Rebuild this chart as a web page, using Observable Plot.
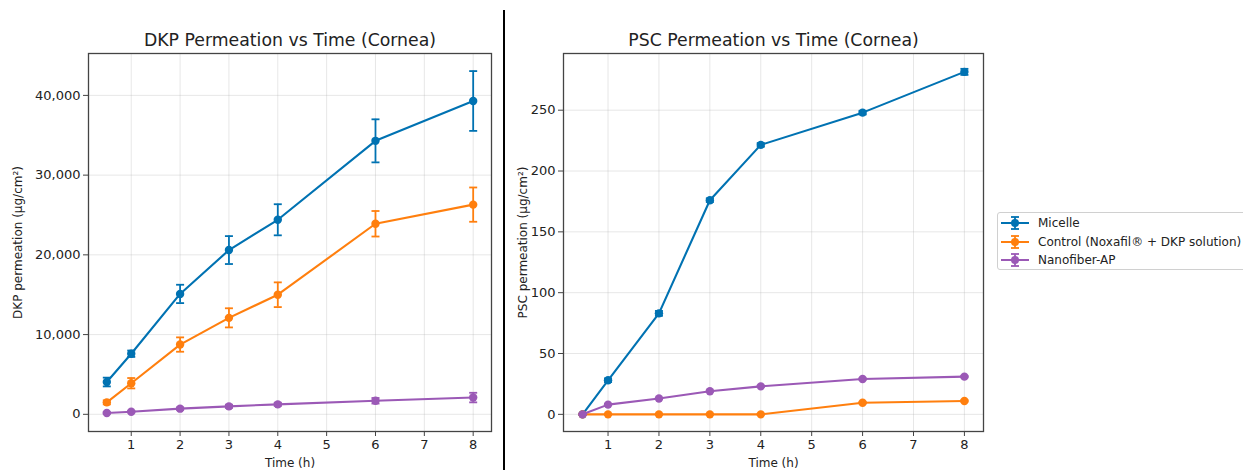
<!DOCTYPE html>
<html><head><meta charset="utf-8">
<script src="https://cdn.jsdelivr.net/npm/d3@7"></script>
<script src="https://cdn.jsdelivr.net/npm/@observablehq/plot@0.6"></script>
<style>
html,body{margin:0;padding:0;background:#fff}
body{width:1243px;height:470px;overflow:hidden;position:relative;font-family:"DejaVu Sans",sans-serif}
#left{position:absolute;left:0;top:0}
#right{position:absolute;left:505px;top:0}
#left svg text, #right svg text{font-family:"DejaVu Sans",sans-serif}
g[aria-label$="tick label"]{font-size:13px}
#divider{position:absolute;left:503px;top:10px;width:2px;height:460px;background:#000}
#legend{position:absolute;left:997px;top:212px;width:262px;height:58px;border:1px solid #d0d0d0;border-radius:3px;background:#fff;font-size:12px;color:#222;box-sizing:border-box;padding-top:1px}
.row{height:18.5px;display:flex;align-items:center;white-space:nowrap}
.row svg{margin-left:3px;margin-right:9px}
</style></head>
<body>
<div id="left"></div>
<div id="divider"></div>
<div id="right"></div>
<div id="legend"></div>
<script>
const times = [0.5, 1, 2, 3, 4, 6, 8];
const seriesNames = ["Micelle", "Control (Noxafil® + DKP solution)", "Nanofiber-AP"];
const seriesColors = ["#0072B2", "#ff7f0e", "#9b59b6"];

// DKP permeation (µg/cm²)
const dkpMicelle = [4050, 7600, 15100, 20600, 24400, 34300, 39300];
const dkpMicelleErr = [550, 400, 1150, 1750, 1950, 2700, 3750];
const dkpControl = [1500, 3900, 8750, 12100, 15000, 23900, 26300];
const dkpControlErr = [250, 650, 900, 1200, 1550, 1600, 2150];
const dkpNano = [170, 330, 710, 1000, 1250, 1700, 2100];
const dkpNanoErr = [100, 100, 150, 200, 200, 350, 600];

// PSC permeation (µg/cm²)
const pscMicelle = [0, 28, 83, 176, 221.5, 248, 281.5];
const pscMicelleErr = [0.5, 1.5, 2, 1.5, 1.5, 1.5, 2.5];
const pscControl = [0, 0, 0, 0, 0, 9.5, 11];
const pscControlErr = [0, 0, 0, 0, 0, 0.5, 0.5];
const pscNano = [0, 8, 13, 19, 23, 29, 31];
const pscNanoErr = [0, 0.5, 0.5, 0.5, 0.5, 0.5, 0.5];

const xTicks = [1, 2, 3, 4, 5, 6, 7, 8];
const dkpTicks = [0, 10000, 20000, 30000, 40000];
const pscTicks = [0, 50, 100, 150, 200, 250];

function table(vals, errs) {
  const rows = [];
  vals.forEach((v, si) => {
    v.forEach((y, i) => rows.push({series: seriesNames[si], t: times[i], v: y, lo: y - errs[si][i], hi: y + errs[si][i]}));
  });
  return rows;
}

const capSymbol = {draw(ctx, size) { const r = Math.sqrt(size / Math.PI); ctx.moveTo(-r, 0); ctx.lineTo(r, 0); }};

function panel({data, title, ylabel, yDomain, yTicks, yFormat, width, marginLeft, marginRight}) {
  const marks = [
    Plot.gridX(xTicks, {stroke: "#b0b0b0", strokeOpacity: 0.3, strokeWidth: 1}),
    Plot.gridY(yTicks, {stroke: "#b0b0b0", strokeOpacity: 0.3, strokeWidth: 1}),
    Plot.axisX({ticks: xTicks, tickSize: 5, tickPadding: 3, label: null, stroke: "#444", fill: "#222"}),
    Plot.axisY({ticks: yTicks, tickSize: 5, tickPadding: 3, tickFormat: yFormat, label: null, stroke: "#444", fill: "#222"}),
  ];
  for (const name of seriesNames) {
    const d = data.filter(r => r.series === name);
    marks.push(
      Plot.line(d, {x: "t", y: "v", stroke: "series", strokeWidth: 2.1}),
      Plot.ruleX(d, {x: "t", y1: "lo", y2: "hi", stroke: "series", strokeWidth: 1.8}),
      Plot.dot(d, {x: "t", y: "hi", symbol: capSymbol, r: 4, stroke: "series", fill: "none", strokeWidth: 1.8}),
      Plot.dot(d, {x: "t", y: "lo", symbol: capSymbol, r: 4, stroke: "series", fill: "none", strokeWidth: 1.8}),
      Plot.dot(d, {x: "t", y: "v", r: 4.2, fill: "series", stroke: "none"})
    );
  }
  marks.push(
    Plot.frame({stroke: "#444", strokeWidth: 1.3}),
    Plot.text([title], {frameAnchor: "top", lineAnchor: "middle", textAnchor: "middle", dy: -13, fontSize: 17.3, fill: "#222"}),
    Plot.text([ylabel], {frameAnchor: "left", rotate: -90, textAnchor: "middle", lineAnchor: "middle", dx: -(marginLeft - 18), fontSize: 12, fill: "#222"}),
    Plot.text(["Time (h)"], {frameAnchor: "bottom", lineAnchor: "middle", textAnchor: "middle", dy: 32, fontSize: 12, fill: "#222"})
  );
  return Plot.plot({
    width, height: 470,
    marginLeft, marginRight, marginTop: 53, marginBottom: 39,
    style: {fontFamily: "DejaVu Sans, sans-serif", fontSize: "12px", color: "#222", background: "#fff"},
    x: {domain: [0.125, 8.375]},
    y: {domain: yDomain},
    color: {domain: seriesNames, range: seriesColors},
    marks
  });
}

document.getElementById("left").appendChild(panel({
  data: table([dkpMicelle, dkpControl, dkpNano], [dkpMicelleErr, dkpControlErr, dkpNanoErr]),
  title: "DKP Permeation vs Time (Cornea)",
  ylabel: "DKP permeation (μg/cm²)",
  yDomain: [-2155, 45255], yTicks: dkpTicks, yFormat: d3.format(","),
  width: 500, marginLeft: 88, marginRight: 9
}));

document.getElementById("right").appendChild(panel({
  data: table([pscMicelle, pscControl, pscNano], [pscMicelleErr, pscControlErr, pscNanoErr]),
  title: "PSC Permeation vs Time (Cornea)",
  ylabel: "PSC permeation (μg/cm²)",
  yDomain: [-14.1, 296.6], yTicks: pscTicks, yFormat: d3.format("d"),
  width: 490, marginLeft: 58, marginRight: 12
}));

const legend = document.getElementById("legend");
seriesNames.forEach((name, i) => {
  const c = seriesColors[i];
  const row = document.createElement("div");
  row.className = "row";
  row.innerHTML = `<svg width="28" height="14"><line x1="0" x2="28" y1="7" y2="7" stroke="${c}" stroke-width="2"/>` +
    `<line x1="14" x2="14" y1="1" y2="13" stroke="${c}" stroke-width="1.8"/>` +
    `<line x1="10" x2="18" y1="1" y2="1" stroke="${c}" stroke-width="1.8"/>` +
    `<line x1="10" x2="18" y1="13" y2="13" stroke="${c}" stroke-width="1.8"/>` +
    `<circle cx="14" cy="7" r="4" fill="${c}"/></svg><span>${name}</span>`;
  legend.appendChild(row);
});
</script>
</body></html>
